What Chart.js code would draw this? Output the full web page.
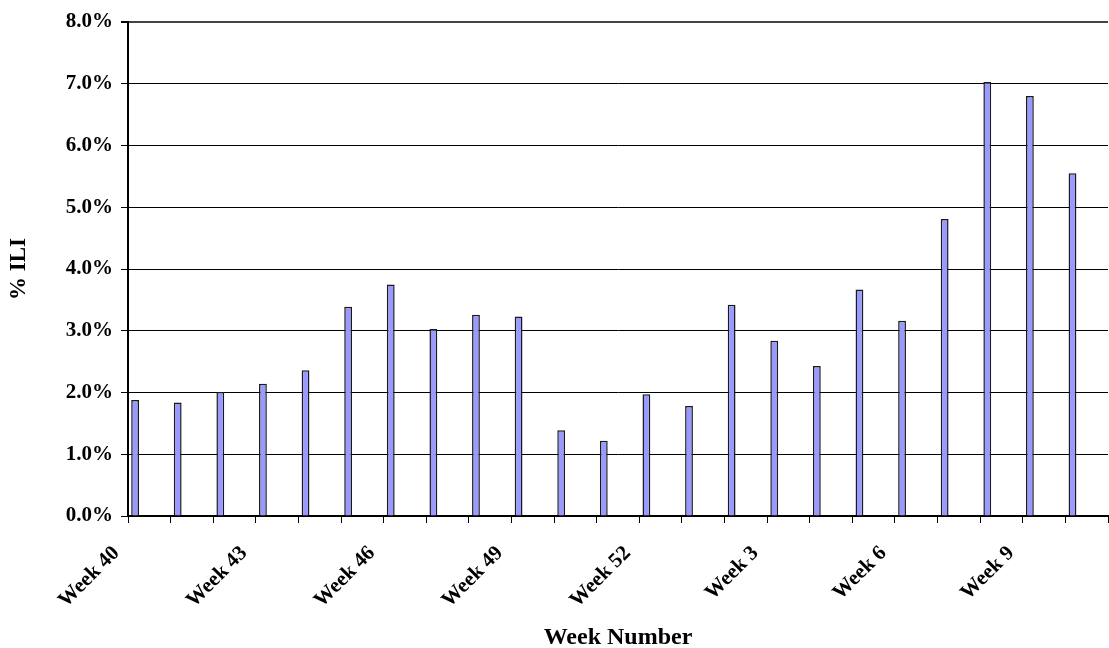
<!DOCTYPE html>
<html>
<head>
<meta charset="utf-8">
<script src="https://cdn.jsdelivr.net/npm/chart.js@4/dist/chart.umd.min.js"></script>
<style>
  html, body { margin: 0; padding: 0; background: #fff; }
  #wrap { width: 1109px; height: 648px; }
</style>
</head>
<body>
<div id="wrap"><canvas id="iliChart"></canvas></div>
<script>
// week labels: 40..52 then 1..10
const weekLabels = [
  'Week 40', 'Week 41', 'Week 42', 'Week 43', 'Week 44', 'Week 45', 'Week 46',
  'Week 47', 'Week 48', 'Week 49', 'Week 50', 'Week 51', 'Week 52',
  'Week 1', 'Week 2', 'Week 3', 'Week 4', 'Week 5', 'Week 6',
  'Week 7', 'Week 8', 'Week 9', 'Week 10'
];

// % ILI per week
const iliPercent = [
  1.88, 1.84, 2.01, 2.14, 2.36, 3.39, 3.75,
  3.03, 3.26, 3.23, 1.39, 1.22, 1.97,
  1.78, 3.42, 2.84, 2.43, 3.67, 3.16,
  4.81, 7.03, 6.80, 5.55
];

const yTicks = [0, 1, 2, 3, 4, 5, 6, 7, 8];

Chart.defaults.font.family = "'Liberation Serif', 'Times New Roman', serif";
Chart.defaults.font.weight = 'bold';
Chart.defaults.color = '#000';

// the original sheet is a clustered chart with two unused series next to this one,
// so the bar sits in the left third of each week slot
const datasets = [
  {
    label: '% ILI',
    data: iliPercent,
    backgroundColor: '#9999ff',
    borderColor: '#1a1a1a',
    borderWidth: 1.5,
    borderSkipped: 'bottom',
    categoryPercentage: 1.0,
    barPercentage: 0.55
  },
  { label: 'unused 1', data: [], categoryPercentage: 1.0, barPercentage: 0.55 },
  { label: 'unused 2', data: [], categoryPercentage: 1.0, barPercentage: 0.55 }
];

new Chart(document.getElementById('iliChart'), {
  type: 'bar',
  data: { labels: weekLabels, datasets: datasets },
  options: {
    responsive: true,
    maintainAspectRatio: false,
    animation: false,
    layout: { padding: { top: 22, right: 1, left: 0, bottom: 0 } },
    plugins: {
      legend: { display: false },
      tooltip: { enabled: false }
    },
    scales: {
      x: {
        offset: true,
        grid: {
          offset: true,
          drawOnChartArea: false,
          drawTicks: true,
          tickLength: 7,
          tickColor: '#000',
          tickWidth: 1
        },
        border: { color: '#000', width: 2 },
        ticks: {
          autoSkip: false,
          minRotation: 45,
          maxRotation: 45,
          padding: 18,
          labelOffset: -33,
          font: { size: 21, weight: 'bold' },
          callback: (v, i) => (i % 3 === 0 ? weekLabels[i] : '')
        },
        title: {
          display: true,
          text: 'Week Number',
          font: { size: 24, weight: 'bold', lineHeight: 0.85 },
          padding: { top: 0, bottom: 0 }
        },
        afterFit: (axis) => {
          axis.height = 132;
          axis.paddingLeft = 0;
          axis.paddingRight = 0;
        }
      },
      y: {
        min: 0,
        max: 8,
        afterBuildTicks: (axis) => { axis.ticks = yTicks.map(v => ({ value: v })); },
        grid: {
          color: (c) => (c.tick && c.tick.value === 8 ? '#444' : '#000'),
          lineWidth: (c) => (c.tick && c.tick.value === 8 ? 2 : 1),
          tickLength: 7,
          tickColor: '#000'
        },
        border: { color: '#000', width: 2 },
        ticks: {
          padding: 8,
          font: { size: 21, weight: 'bold' },
          callback: (v) => Number(v).toFixed(1) + '%'
        },
        title: {
          display: true,
          text: '% ILI',
          font: { size: 23, weight: 'bold', lineHeight: 1 },
          padding: { top: 8, bottom: 0 }
        },
        afterFit: (axis) => { axis.width = 128; }
      }
    }
  }
});
</script>
</body>
</html>
